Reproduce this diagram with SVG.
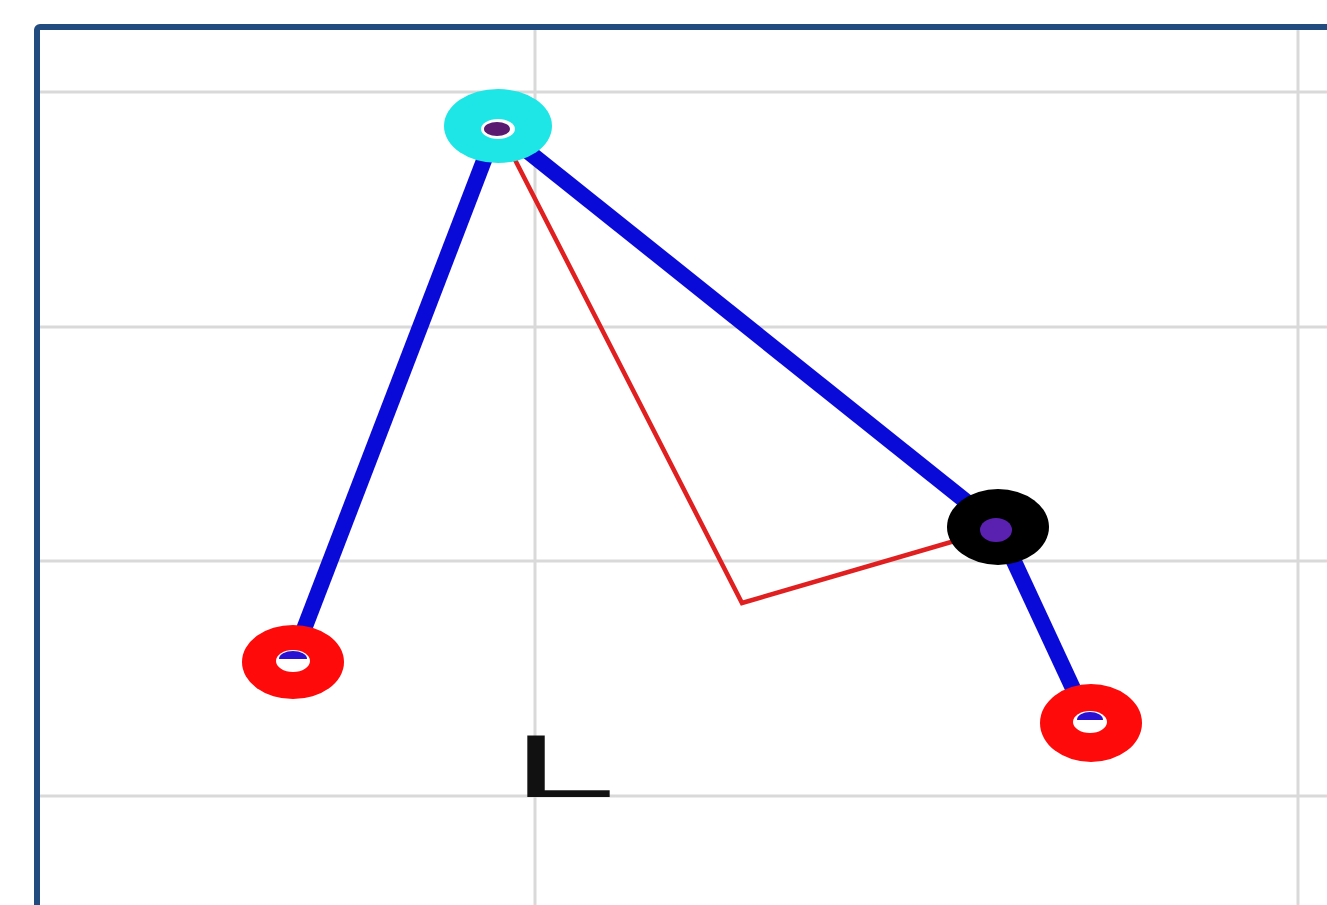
<svg xmlns="http://www.w3.org/2000/svg" width="1327" height="905" viewBox="0 0 1327 905">
<style>
.grid{stroke:#d9d9d9;stroke-width:3;fill:none}
.bar{stroke:#0a0ad8;stroke-width:16;stroke-linecap:butt;fill:none}
.thin{stroke:#e02020;stroke-width:4.5;fill:none;stroke-linejoin:miter}
.hole{fill:#ffffff}
.lbl{font-family:"Liberation Sans",Arial,sans-serif;font-size:89px;fill:#111111}
</style>
<rect x="0" y="0" width="1327" height="905" fill="#ffffff"/>
<g id="grid">
<line class="grid" x1="40" y1="92" x2="1327" y2="92"/>
<line class="grid" x1="40" y1="327" x2="1327" y2="327"/>
<line class="grid" x1="40" y1="561" x2="1327" y2="561"/>
<line class="grid" x1="40" y1="796" x2="1327" y2="796"/>
<line class="grid" x1="535" y1="30" x2="535" y2="905"/>
<line class="grid" x1="1298" y1="30" x2="1298" y2="905"/>
</g>
<g id="connectors">
<line class="bar" x1="493" y1="137" x2="296" y2="650"/>
<line class="bar" x1="500" y1="129" x2="998" y2="527"/>
<line class="bar" x1="998" y1="527" x2="1083" y2="710"/>
<polyline class="thin" points="510,150 742,603 958,540"/>
</g>
<g id="node-top">
<ellipse cx="498" cy="126" rx="54" ry="37" fill="#1ee6e6"/>
<ellipse cx="498" cy="129" rx="17" ry="10" fill="#ffffff"/>
<ellipse cx="497" cy="129" rx="13" ry="7" fill="#5a1a70"/>
</g>
<g id="node-mid">
<ellipse cx="998" cy="527" rx="51" ry="38" fill="#000000"/>
<ellipse cx="996" cy="530" rx="16" ry="12" fill="#5a20b0"/>
</g>
<g id="node-left">
<ellipse cx="293" cy="662" rx="51" ry="37" fill="#ff0a0a"/>
<ellipse cx="293" cy="661" rx="17" ry="11" class="hole"/>
<path d="M279,659 a14,8 0 0 1 28,0 z" fill="#2a10d0"/>
</g>
<g id="node-right">
<ellipse cx="1091" cy="723" rx="51" ry="39" fill="#ff0a0a"/>
<ellipse cx="1090" cy="722" rx="17" ry="11" class="hole"/>
<path d="M1077,720 a13,8 0 0 1 26,0 z" fill="#2a10d0"/>
</g>
<g id="label">
<text class="lbl" transform="translate(512,797) scale(2.1,1)" x="0" y="0">L</text>
</g>
<rect x="37" y="27" width="1400" height="1000" rx="3" fill="none" stroke="#224b80" stroke-width="6"/>
</svg>
